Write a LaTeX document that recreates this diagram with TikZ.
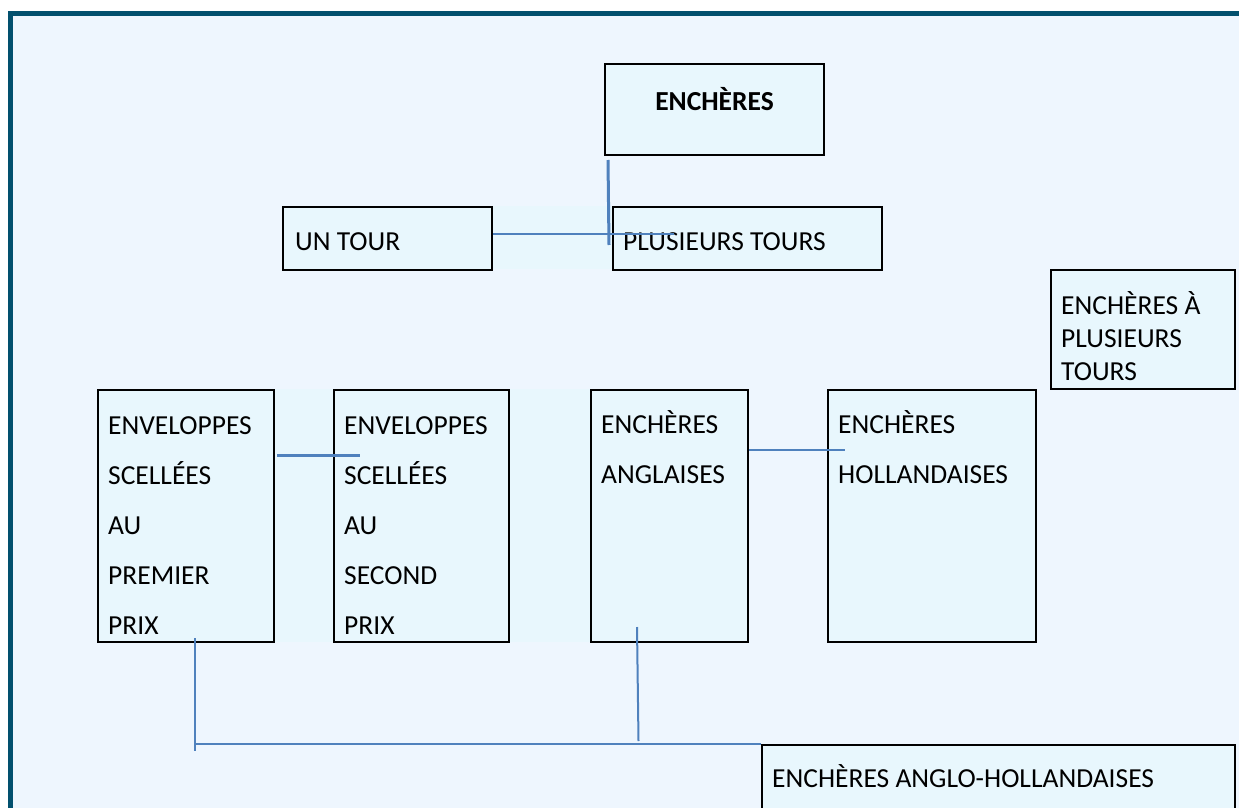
\documentclass[tikz,border=0pt]{standalone}
\usepackage{fontspec}
\setmainfont{Carlito}
\usetikzlibrary{calc}
\definecolor{framec}{HTML}{02506E}
\definecolor{bgc}{HTML}{EEF6FE}
\definecolor{boxc}{HTML}{E8F7FD}
\definecolor{connc}{HTML}{4F81BD}
\tikzset{
  boxn/.style={draw=black, line width=2pt, fill=boxc, rectangle, inner sep=0pt},
  txt/.style={anchor=base west, inner sep=0pt, font=\fontsize{27.5}{33}\selectfont},
  conn/.style={draw=connc, line width=2.5pt}
}
\begin{document}
\begin{tikzpicture}[x=1pt,y=-1pt]
\useasboundingbox (0,0) rectangle (1239,808);
\clip (0,0) rectangle (1239,808);
% frame and background
\fill[white] (0,0) rectangle (1239,808);
\fill[framec] (8,11) rectangle (1245,815);
\fill[bgc] (13,16) rectangle (1245,815);
% faint group fills
\fill[boxc] (492,206) rectangle (613,269);
\fill[boxc] (274,389) rectangle (591,642);
% boxes
\node[boxn, minimum width=219pt, minimum height=91pt] (top) at (714.5,109.5) {};
\node[boxn, minimum width=209pt, minimum height=63pt] (un) at (387.5,238.5) {};
\node[boxn, minimum width=269pt, minimum height=63pt] (plus) at (747.5,238.5) {};
\node[boxn, minimum width=184pt, minimum height=119pt] (multi) at (1143,329.5) {};
\node[boxn, minimum width=176pt, minimum height=252pt] (b1) at (186,516) {};
\node[boxn, minimum width=175pt, minimum height=252pt] (b2) at (421.5,516) {};
\node[boxn, minimum width=157pt, minimum height=252pt] (b3) at (669.5,516) {};
\node[boxn, minimum width=208pt, minimum height=252pt] (b4) at (932,516) {};
\node[boxn, minimum width=473pt, minimum height=86pt] (anglo) at (998.5,788) {};
% texts
\node[txt, anchor=base, font=\fontsize{27.5}{33}\selectfont\bfseries] (ttop) at (714.5,110) {ENCHÈRES};
\node[txt] (tun) at (295,250) {UN TOUR};
\node[txt] (tplus) at (623,250) {PLUSIEURS TOURS};
\node[txt] (tm1) at (1061,314) {ENCHÈRES À};
\node[txt] (tm2) at (1061,347) {PLUSIEURS};
\node[txt] (tm3) at (1061,380) {TOURS};
\node[txt] (ta1) at (108,434) {ENVELOPPES};
\node[txt] (ta2) at (108,484) {SCELLÉES};
\node[txt] (ta3) at (108,534) {AU};
\node[txt] (ta4) at (108,584) {PREMIER};
\node[txt] (ta5) at (108,634) {PRIX};
\node[txt] (tb1) at (344,434) {ENVELOPPES};
\node[txt] (tb2) at (344,484) {SCELLÉES};
\node[txt] (tb3) at (344,534) {AU};
\node[txt] (tb4) at (344,584) {SECOND};
\node[txt] (tb5) at (344,634) {PRIX};
\node[txt] (tc1) at (601,433) {ENCHÈRES};
\node[txt] (tc2) at (601,483) {ANGLAISES};
\node[txt] (td1) at (838,433) {ENCHÈRES};
\node[txt] (td2) at (838,483) {HOLLANDAISES};
\node[txt] (te) at (772,787) {ENCHÈRES ANGLO-HOLLANDAISES};
% connectors
\coordinate (v1a) at ($(top.south west)+(4,4)$);
\coordinate (v1b) at (609,245);
\draw[conn, line width=3pt] (v1a) -- (v1b);
\coordinate (h1b) at (674,234);
\draw[conn] ([yshift=4.5pt]un.east) -- (h1b);
\coordinate (h2a) at (277,455);
\coordinate (h2b) at (360,455);
\draw[conn, line width=3pt] (h2a) -- (h2b);
\coordinate (h3b) at (845,450);
\draw[conn] ([yshift=66pt]b3.east) -- (h3b);
\coordinate (v4a) at (195,638);
\coordinate (v4b) at (195,751);
\draw[conn, line width=2pt] (v4a) -- (v4b);
\coordinate (v5a) at (637,627);
\coordinate (v5b) at (638.5,741);
\draw[conn, line width=2pt] (v5a) -- (v5b);
\coordinate (h4a) at (195,744);
\draw[conn] (h4a) -- (anglo.north west);
\end{tikzpicture}
\end{document}
